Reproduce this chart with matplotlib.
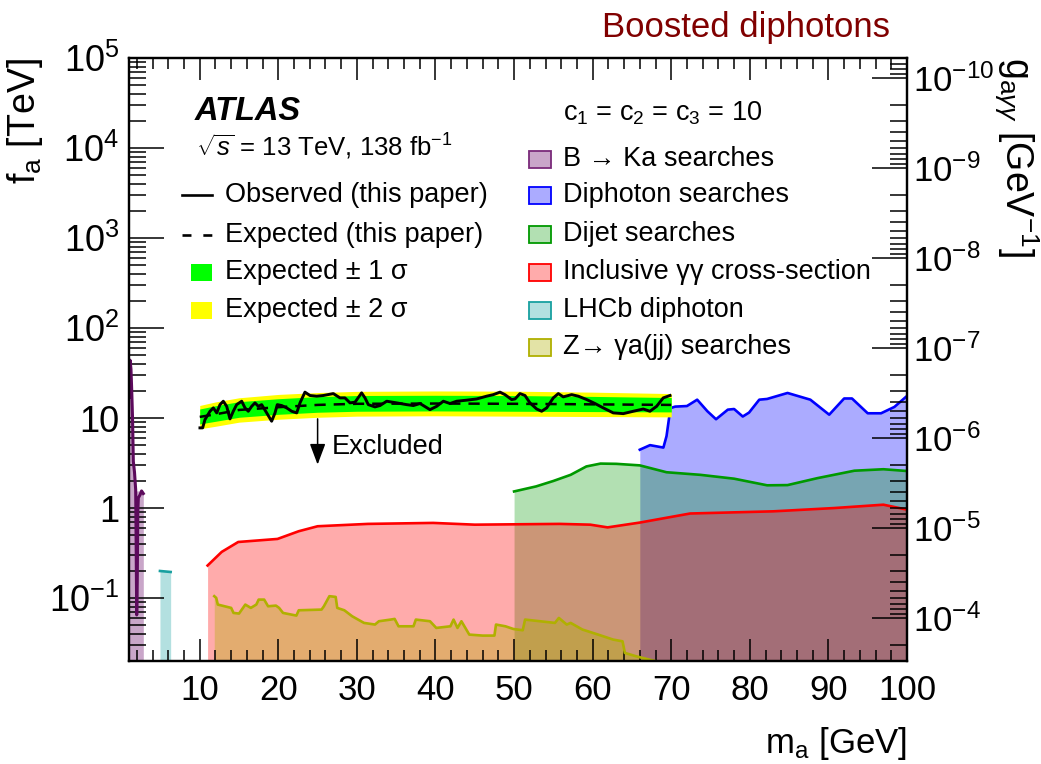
"""Boosted diphoton ALP limits: f_a versus m_a, with g_aγγ on the right axis."""
import numpy as np
import matplotlib
matplotlib.use("Agg")
import matplotlib.pyplot as plt
from matplotlib.colors import to_rgba
from matplotlib.lines import Line2D
from matplotlib.patches import Rectangle
from matplotlib.ticker import FixedLocator, FuncFormatter, LogLocator, MultipleLocator, NullFormatter

plt.rcParams["font.family"] = ["Liberation Sans", "DejaVu Sans"]
plt.rcParams["mathtext.fontset"] = "custom"
plt.rcParams["mathtext.rm"] = "Liberation Sans"
plt.rcParams["mathtext.it"] = "Liberation Sans:italic"
plt.rcParams["mathtext.bf"] = "Liberation Sans:bold"

# ---- data (m_a in GeV, f_a in TeV) ----
bka_mass = [1.0, 1.13, 1.25, 1.34, 1.45, 1.55, 1.7, 1.85, 1.92, 1.98, 2.05, 2.12, 2.19, 2.4, 2.6, 2.82]
bka_fa = [17, 44, 35, 21, 10, 3.3, 2.5, 1.6, 0.3, 0.065, 0.15, 0.9, 1.3, 1.4, 1.55, 1.45]

lhcb_mass = [4.94, 6.3]
lhcb_fa = [0.20, 0.195]

incl_mass = [11.0, 12.8, 14.9, 19.9, 22.6, 25.0, 31.4, 39.7, 45.0, 55.8, 59.7, 61.9, 66.0, 72.4, 83.0, 90.7, 97.0, 100]
incl_fa = [0.23, 0.326, 0.42, 0.454, 0.553, 0.628, 0.667, 0.684, 0.654, 0.667, 0.654, 0.61, 0.69, 0.87, 0.92, 1.0, 1.09, 0.96]

dijet_mass = [50.0, 52.8, 55.0, 57.2, 59.2, 61.0, 63.0, 66.0, 69.4, 73.7, 78.0, 82.2, 84.8, 88.6, 93.3, 97.0, 100]
dijet_fa = [1.53, 1.74, 2.0, 2.34, 2.9, 3.12, 3.1, 2.98, 2.5, 2.34, 2.12, 1.79, 1.8, 2.15, 2.6, 2.7, 2.58]

diphoton_mass = [66.0, 67.3, 69.0, 69.4, 69.9, 70.5, 72.0, 73.3, 74.6, 75.7, 77.2, 78.0, 79.1, 79.9,
                 81.2, 82.2, 84.8, 87.7, 90.1, 92.0, 93.0, 95.0, 96.7, 98.4, 100]
diphoton_fa = [4.45, 5.0, 4.7, 6.3, 12.9, 13.4, 13.6, 16.0, 11.9, 9.7, 12.4, 12.6, 10.4, 11.5,
               16.0, 16.3, 19.0, 16.0, 10.9, 16.5, 16.5, 11.3, 11.3, 13.3, 17.6]

zga_mass = [11.85, 12.1, 12.3, 14.0, 14.3, 15.0, 15.8, 16.5, 17.2, 17.5, 18.2, 18.7, 19.7, 20.1, 20.6,
            22.3, 22.6, 25.5, 25.8, 26.5, 27.3, 27.5, 28.4, 29.4, 30.9, 32.3, 32.8, 34.3, 34.8, 35.3,
            37.2, 37.5, 39.3, 40.1, 41.9, 42.3, 42.8, 43.3, 44.3, 46.0, 47.5, 47.7, 48.9, 49.9, 51.1,
            51.4, 55.2, 55.7, 56.7, 57.2, 58.7, 60.7, 62.6, 63.8, 64.1, 65.5, 68.0]
zga_fa = [0.105, 0.1005, 0.0847, 0.0778, 0.0684, 0.0673, 0.0847, 0.0778, 0.0847, 0.0962, 0.0962, 0.0811,
          0.0825, 0.0778, 0.0684, 0.0639, 0.0732, 0.0745, 0.0811, 0.105, 0.103, 0.0778, 0.0732, 0.0628,
          0.053, 0.0508, 0.0553, 0.0577, 0.0587, 0.0486, 0.0486, 0.0577, 0.0553, 0.0466, 0.0486, 0.0577,
          0.0466, 0.0553, 0.0393, 0.0383, 0.0383, 0.0508, 0.0486, 0.0454, 0.0439, 0.0577, 0.053, 0.0602,
          0.0508, 0.053, 0.0447, 0.0393, 0.0346, 0.0331, 0.0246, 0.0226, 0.0199]

band_mass = [10, 12, 15, 20, 25, 30, 40, 50, 60, 70]
exp_fa = [10.3, 11.0, 12.3, 13.2, 14.0, 14.4, 14.5, 14.4, 14.2, 14.0]
exp_m2 = [7.6, 8.1, 9.0, 9.7, 10.2, 10.5, 10.6, 10.5, 10.4, 10.3]
exp_m1 = [8.6, 9.2, 10.2, 11.0, 11.6, 11.9, 12.0, 11.9, 11.8, 11.7]
exp_p1 = [12.6, 13.7, 15.2, 16.4, 17.3, 17.8, 17.9, 17.8, 17.4, 16.9]
exp_p2 = [13.8, 15.1, 16.8, 18.3, 19.2, 19.8, 20.0, 19.9, 19.4, 18.7]

obs_mass = [10.03, 10.37, 10.67, 11.31, 11.73, 12.16, 12.58, 13.0, 13.43, 13.85, 14.27, 14.7, 15.34,
            15.76, 16.18, 16.61, 17.03, 17.46, 17.88, 18.52, 19.15, 19.58, 19.87, 20.43, 21.06, 21.7,
            22.34, 22.76, 23.39, 24.03, 24.88, 25.72, 27.0, 27.85, 28.48, 29.12, 29.76, 30.6, 31.03,
            31.45, 32.3, 32.94, 33.79, 35.06, 36.33, 37.18, 38.03, 38.45, 39.3, 40.15, 41.0, 41.85,
            42.69, 43.97, 45.24, 46.51, 47.36, 48.21, 48.84, 49.69, 50.12, 50.75, 51.39, 52.02, 52.88,
            53.51, 54.15, 54.99, 55.63, 56.26, 57.33, 58.17, 59.24, 60.3, 61.35, 62.62, 63.9, 65.17,
            66.44, 67.29, 68.14, 68.98, 69.84]
obs_fa = [7.78, 7.78, 9.62, 11.9, 12.97, 11.41, 14.1, 15.38, 13.5, 9.79, 11.9, 14.1, 15.38, 12.97,
          11.9, 13.5, 14.74, 13.5, 14.1, 11.41, 9.22, 11.41, 14.1, 13.77, 12.97, 11.9, 11.41, 14.74,
          19.4, 17.8, 17.5, 17.8, 18.7, 16.75, 16.75, 14.74, 15.0, 19.05, 16.75, 14.1, 13.3, 13.77,
          15.38, 14.74, 14.1, 13.77, 14.5, 13.77, 12.4, 13.5, 15.38, 14.5, 15.38, 15.8, 16.3, 17.5,
          18.2, 19.4, 18.2, 16.05, 16.3, 18.7, 17.8, 14.74, 12.6, 11.9, 12.97, 16.75, 18.7, 17.2,
          18.2, 17.5, 16.05, 14.5, 12.97, 11.41, 11.2, 11.9, 12.6, 11.9, 13.5, 16.75, 17.8]

excluded_mass = 25.0
excluded_fa = (9.8, 3.04)

fa_ticks = [0.1, 1, 10, 1e2, 1e3, 1e4, 1e5]
g_ticks = [1e-10, 1e-9, 1e-8, 1e-7, 1e-6, 1e-5, 1e-4]

F_MIN, F_MAX = 0.02, 1e5
G_SCALE = 6e-6   # g_aγγ [GeV^-1] = G_SCALE / f_a [TeV]
FLOOR = 1e-3

W, H = 1041, 764
FS_LEG = 19.5

C_PURPLE_LINE = "#5c0a5c"
C_PURPLE_FILL = "#c9a6c9"
C_BLUE = "#0000ff"
C_GREEN = "#009900"
C_RED = "#ff0000"
C_OLIVE = "#b0b000"
C_TEAL = "#18a0a0"
C_TEAL_FILL = "#b3e0e0"


def fxy(px, py):
    return px / W, 1 - py / H


fig = plt.figure(figsize=(W / 100, H / 100), dpi=100)
ax = fig.add_axes([129 / W, 1 - 661 / H, 778 / W, 603 / H])
ax.set_yscale("log")
ax.set_xlim(1, 100)
ax.set_ylim(F_MIN, F_MAX)

# exclusion regions, drawn bottom-up so the overlaps mix like the original
ax.fill_between(diphoton_mass, FLOOR, diphoton_fa, color=C_BLUE, alpha=0.33, lw=0, zorder=1)
ax.fill_between(dijet_mass, FLOOR, dijet_fa, color=C_GREEN, alpha=0.3, lw=0, zorder=1)
ax.fill_between(incl_mass, FLOOR, incl_fa, color=C_RED, alpha=0.33, lw=0, zorder=1)
ax.fill_between(zga_mass, FLOOR, zga_fa, color=C_OLIVE, alpha=0.35, lw=0, zorder=1)
ax.fill_between(lhcb_mass, FLOOR, lhcb_fa, color=C_TEAL_FILL, lw=0, zorder=1)
bka_env = np.maximum.accumulate(np.array(bka_fa)[::-1])[::-1]
ax.fill_between(bka_mass, FLOOR, bka_env, color=C_PURPLE_FILL, lw=0, zorder=1)

ax.plot(diphoton_mass, diphoton_fa, color=C_BLUE, lw=1.9, zorder=2)
ax.plot(dijet_mass, dijet_fa, color=C_GREEN, lw=1.9, zorder=2)
ax.plot(incl_mass, incl_fa, color=C_RED, lw=1.9, zorder=2)
ax.plot(zga_mass, zga_fa, color=C_OLIVE, lw=1.9, zorder=2)
ax.plot(lhcb_mass, lhcb_fa, color=C_TEAL, lw=1.9, zorder=2)
ax.plot(bka_mass, bka_fa, color=C_PURPLE_LINE, lw=2.2, zorder=2)

# this paper
ax.fill_between(band_mass, exp_m2, exp_p2, color="#ffff00", lw=0, zorder=3)
ax.fill_between(band_mass, exp_m1, exp_p1, color="#00ff00", lw=0, zorder=3)
ax.plot(band_mass, exp_fa, color="black", lw=1.8, dashes=(4.5, 3.2), zorder=4)
ax.plot(obs_mass, obs_fa, color="black", lw=2.1, zorder=4)

ax.annotate("", xy=(excluded_mass, excluded_fa[1]), xytext=(excluded_mass, excluded_fa[0]),
            arrowprops=dict(arrowstyle="-|>,head_length=0.8,head_width=0.3", color="black",
                            lw=1.1, mutation_scale=16, shrinkA=0, shrinkB=0), zorder=5)
ax.text(26.8, 4.83, "Excluded", fontsize=FS_LEG, ha="left", va="center", zorder=5)

# axes cosmetics
ax.xaxis.set_major_locator(MultipleLocator(10))
ax.xaxis.set_minor_locator(MultipleLocator(2))
ax.yaxis.set_major_locator(FixedLocator(fa_ticks))
ax.yaxis.set_minor_locator(LogLocator(base=10, subs=np.arange(2, 10), numticks=100))
ax.yaxis.set_minor_formatter(NullFormatter())


def fa_label(v, _pos):
    if np.isclose(v, 1):
        return "1"
    if np.isclose(v, 10):
        return "10"
    return r"$10^{%d}$" % round(np.log10(v))


ax.yaxis.set_major_formatter(FuncFormatter(fa_label))
ax.tick_params(axis="both", which="both", direction="in", top=True, right=False, width=1.1)
ax.tick_params(axis="x", which="major", length=16, labelsize=25, pad=9)
ax.tick_params(axis="x", which="minor", length=8)
ax.tick_params(axis="y", which="major", length=25, labelsize=26, pad=7)
ax.tick_params(axis="y", which="minor", length=12)
for sp in ax.spines.values():
    sp.set_linewidth(1.6)

ax2 = ax.twinx()
ax2.set_yscale("log")
ax2.set_ylim(G_SCALE / F_MIN, G_SCALE / F_MAX)
ax2.yaxis.set_major_locator(FixedLocator(g_ticks))
ax2.yaxis.set_minor_locator(LogLocator(base=10, subs=np.arange(2, 10), numticks=100))
ax2.yaxis.set_minor_formatter(NullFormatter())
ax2.yaxis.set_major_formatter(FuncFormatter(lambda v, _p: r"$10^{%d}$" % round(np.log10(v))))
ax2.tick_params(axis="y", which="both", direction="in", width=1.1)
ax2.tick_params(axis="y", which="major", length=25, labelsize=25, pad=4)
ax2.tick_params(axis="y", which="minor", length=12)
for sp in ax2.spines.values():
    sp.set_linewidth(1.6)

# axis titles
fig.text(*fxy(25, 58), r"f$_\mathrm{a}$ [TeV]", rotation=90, ha="center", va="top", fontsize=27)
fig.text(*fxy(1016, 57), r"g$_{\mathrm{a}\gamma\gamma}$ [GeV$^{-1}$]", rotation=-90,
         ha="center", va="top", fontsize=27)
fig.text(*fxy(907, 744), r"m$_\mathrm{a}$ [GeV]", ha="right", va="center", fontsize=25)
fig.text(*fxy(890, 37), "Boosted diphotons", ha="right", va="baseline", fontsize=25, color="#800000")

# left legend block
fig.text(*fxy(195, 111), "ATLAS", fontsize=23.5, fontweight="bold", fontstyle="italic",
         ha="left", va="center")
fig.text(*fxy(196, 147), r"$\sqrt{s}$ = 13 TeV, 138 fb$^{-1}$", fontsize=18.5, ha="left", va="center")

left_rows = [195, 235, 272, 310]
left_text = ["Observed (this paper)", "Expected (this paper)",
             "Expected \u00b1 1 \u03c3", "Expected \u00b1 2 \u03c3"]
for py, label in zip(left_rows, left_text):
    fig.text(*fxy(225, py), label, fontsize=FS_LEG, ha="left", va="center")

x0, y0 = fxy(182, left_rows[0])
x1, _ = fxy(212, left_rows[0])
fig.add_artist(Line2D([x0, x1], [y0, y0], color="black", lw=1.9, transform=fig.transFigure))
x0, y0 = fxy(182, left_rows[1])
fig.add_artist(Line2D([x0, x1], [y0, y0], color="black", lw=1.9, dashes=(3.4, 4.5),
                      transform=fig.transFigure))
for py, col in zip(left_rows[2:], ["#00ff00", "#ffff00"]):
    bx, by = fxy(191, py + 8.5)
    fig.add_artist(Rectangle((bx, by), 21 / W, 17 / H, facecolor=col, edgecolor="none",
                             transform=fig.transFigure))

# right legend block
fig.text(*fxy(563, 113), r"c$_1$ = c$_2$ = c$_3$ = 10", fontsize=FS_LEG, ha="left", va="center")
right_rows = [159, 195, 234, 272, 310, 347]
right_text = ["B \u2192 Ka searches", "Diphoton searches", "Dijet searches",
              "Inclusive \u03b3\u03b3 cross-section", "LHCb diphoton", "Z\u2192 \u03b3a(jj) searches"]
right_face = [C_PURPLE_FILL, to_rgba(C_BLUE, 0.33), to_rgba(C_GREEN, 0.3),
              to_rgba(C_RED, 0.33), C_TEAL_FILL, to_rgba(C_OLIVE, 0.35)]
right_edge = ["#7a2a7a", C_BLUE, C_GREEN, C_RED, C_TEAL, C_OLIVE]
for py, label, fc, ec in zip(right_rows, right_text, right_face, right_edge):
    bx, by = fxy(529, py + 8.5)
    fig.add_artist(Rectangle((bx, by), 22 / W, 17 / H, facecolor=fc, edgecolor=ec, lw=1.3,
                             transform=fig.transFigure))
    fig.text(*fxy(563, py), label, fontsize=FS_LEG, ha="left", va="center")

fig.savefig("out.png", dpi=100)
